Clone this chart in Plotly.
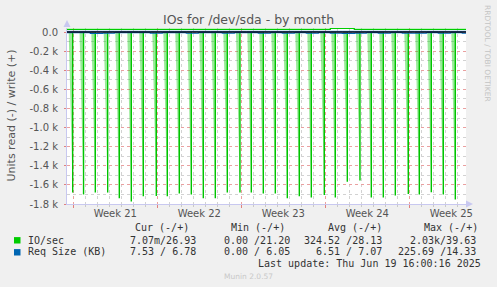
import plotly.graph_objects as go
import pandas as pd

# ---------------- data ----------------
title = "IOs for /dev/sda - by month"
y_title = "Units read (-) / write (+)"

# daily read-IO spikes (time, peak IO/sec shown negative)
spike_times = [
    "2025-05-17 22:45", "2025-05-18 20:30", "2025-05-19 20:00", "2025-05-20 20:45",
    "2025-05-21 20:00", "2025-05-22 20:00", "2025-05-23 20:00", "2025-05-24 22:00",
    "2025-05-25 20:00", "2025-05-26 20:00", "2025-05-27 20:00", "2025-05-28 20:00",
    "2025-05-29 20:00", "2025-05-30 20:00", "2025-05-31 21:20", "2025-06-01 20:00",
    "2025-06-02 20:00", "2025-06-03 20:00", "2025-06-04 20:00", "2025-06-05 20:00",
    "2025-06-06 20:00", "2025-06-07 22:00", "2025-06-08 20:00", "2025-06-09 20:00",
    "2025-06-10 21:20", "2025-06-11 20:00", "2025-06-12 20:00", "2025-06-13 20:00",
    "2025-06-14 22:00", "2025-06-15 20:00", "2025-06-16 20:00", "2025-06-17 20:00",
    "2025-06-18 20:00",
]
spike_peaks = [
    1680, 1700, 1680, 1680, 1740, 1775, 1720, 1715, 1720, 1690, 1700, 1740,
    1740, 1680, 1680, 1680, 1690, 1690, 1740, 1720, 1733, 1705, 1733, 1566,
    1555, 1733, 1733, 1712, 1695, 1700, 1677, 1700, 1754,
]

# write IO/sec, one sample per day (10:00)
write_vals = [
    27, 27, 28, 27, 27, 28, 27, 27, 28, 27, 27, 28, 27, 27, 28, 27, 27,
    28, 27, 27, 28, 27, 39, 38, 28, 27, 27, 28, 27, 27, 28, 27, 27, 28, 28,
]
# request size (KB), one sample per day
req_read = [
    7, 7, 14, 12, 7, 7, 7, 12, 7, 7, 13, 7, 7, 12, 7, 7, 12,
    7, 12, 7, 12, 7, 12, 15, 12, 7, 12, 7, 12, 12, 7, 12, 7, 12, 7,
]
req_write = [
    7, 7, 7, 7, 7, 7, 7, 7, 7, 7, 7, 7, 7, 7, 7, 7, 7,
    7, 7, 7, 7, 7, 7, 7, 7, 7, 7, 7, 7, 7, 7, 7, 7, 7, 7,
]

y_tickvals = [0, -200, -400, -600, -800, -1000, -1200, -1400, -1600, -1800]
y_ticktext = ["0.0", "-0.2 k", "-0.4 k", "-0.6 k", "-0.8 k", "-1.0 k",
              "-1.2 k", "-1.4 k", "-1.6 k", "-1.8 k"]
week_mid = ["2025-05-21 12:00", "2025-05-28 12:00", "2025-06-04 12:00",
            "2025-06-11 12:00", "2025-06-18 12:00"]
week_text = ["Week 21", "Week 22", "Week 23", "Week 24", "Week 25"]

legend_headers = ["Cur (-/+)", "Min (-/+)", "Avg (-/+)", "Max (-/+)"]
legend_names = ["IO/sec", "Req Size (KB)"]
legend_colors = ["#00cc00", "#0066b3"]
legend_values = [
    ["7.07m/26.93", "0.00 /21.20", "324.52 /28.13", "2.03k/39.63"],
    ["7.53 / 6.78", "0.00 / 6.05", "6.51 / 7.07", "225.69 /14.33"],
]
last_update = "Last update: Thu Jun 19 16:00:16 2025"
munin_ver = "Munin 2.0.57"
watermark = "RRDTOOL / TOBI OETIKER"

# ---------------- layout geometry ----------------
W, H = 497, 287
L, R, T, B = 67, 31, 28, 83
PW, PH = W - L - R, H - T - B
def xp(px): return (px - L) / PW
def yp(py): return (T + PH - py) / PH

x0 = pd.Timestamp("2025-05-17 11:24")
x1 = pd.Timestamp("2025-06-19 17:24")
samples = list(pd.date_range("2025-05-17 10:00", periods=len(write_vals), freq="D"))

st = pd.to_datetime(spike_times)
wedge = pd.Timedelta(hours=8)
wx, wy, lx, ly = [], [], [], []
for t, p in zip(st, spike_peaks):
    wx += [t - wedge, t, t, None]
    wy += [0, -p, 0, None]
    lx += [t, t, None]
    ly += [0, -p, None]

fig = go.Figure()
fig.add_trace(go.Scatter(x=wx, y=wy, mode="lines", fill="toself",
                         fillcolor="rgba(0,204,0,0.4)", line=dict(width=0),
                         hoverinfo="skip", showlegend=False))
fig.add_trace(go.Scatter(x=lx, y=ly, mode="lines",
                         line=dict(color="#00c400", width=1.4),
                         showlegend=False))
fig.add_trace(go.Scatter(x=samples, y=write_vals, mode="lines",
                         line=dict(color="#00cc00", width=1.2, shape="hv"),
                         showlegend=False))
fig.add_trace(go.Scatter(x=samples, y=req_write, mode="lines",
                         line=dict(color="#0066b3", width=1, shape="hv"),
                         showlegend=False))
fig.add_trace(go.Scatter(x=samples, y=[-v for v in req_read], mode="lines",
                         line=dict(color="#0066b3", width=1.2, shape="hv"),
                         showlegend=False))
fig.add_trace(go.Scatter(x=[], y=[], xaxis="x2", showlegend=False))

axis_font = dict(family="DejaVu Sans", size=10, color="#555555")
fig.update_layout(
    width=W, height=H,
    margin=dict(l=L, r=R, t=T, b=B),
    paper_bgcolor="#f0f0f0", plot_bgcolor="#ffffff",
    showlegend=False,
    xaxis=dict(
        type="date", range=[x0, x1],
        tickmode="array", tickvals=week_mid, ticktext=week_text,
        ticks="", showgrid=False, zeroline=False,
        showline=True, linecolor="#c8c8f0", linewidth=1,
        tickfont=axis_font,
        minor=dict(tick0="2025-05-18", dtick=86400000, showgrid=True,
                   gridcolor="#d2d2d2", griddash="dot", gridwidth=1,
                   ticks="outside", ticklen=2, tickcolor="#c8c8c8"),
    ),
    xaxis2=dict(
        type="date", overlaying="x", matches="x", range=[x0, x1],
        tick0="2025-05-18", dtick=7 * 86400000, tickmode="linear",
        showticklabels=False, showgrid=True, gridcolor="#eaa0a0",
        griddash="dot", ticks="outside", ticklen=3, tickcolor="#e08080",
        zeroline=False, showline=False, side="bottom", anchor="y",
    ),
    yaxis=dict(
        range=[-1800, 42], tickmode="array", tickvals=y_tickvals,
        ticktext=y_ticktext, tickfont=axis_font,
        showgrid=True, gridcolor="#eaa0a0", griddash="dot", gridwidth=1,
        zeroline=False, showline=True, linecolor="#c8c8f0", linewidth=1,
        ticks="outside", ticklen=2, tickcolor="#e08080",
        ticklabelstandoff=4,
        minor=dict(dtick=100, showgrid=True, gridcolor="#d2d2d2",
                   griddash="dot", gridwidth=1),
    ),
)

shapes = [
    # zero rule
    dict(type="line", xref="paper", yref="y", x0=0, x1=1, y0=0, y1=0,
         line=dict(color="#101020", width=1.6), layer="above"),
    # axis arrows
    dict(type="path", xref="paper", yref="paper",
         path=f"M {xp(63.5)},{yp(27)} L {xp(70.5)},{yp(27)} L {xp(67)},{yp(20)} Z",
         fillcolor="#c8c8f0", line=dict(width=0)),
    dict(type="path", xref="paper", yref="paper",
         path=f"M {xp(466)},{yp(200.5)} L {xp(466)},{yp(207.5)} L {xp(473)},{yp(204)} Z",
         fillcolor="#c8c8f0", line=dict(width=0)),
]
for i, c in enumerate(legend_colors):
    yc = 240.3 + i * 12
    shapes.append(dict(type="rect", xref="paper", yref="paper",
                       x0=xp(14), x1=xp(20.5), y0=yp(yc - 3.2), y1=yp(yc + 3.2),
                       fillcolor=c, line=dict(width=0)))
fig.update_layout(shapes=shapes)

mono = dict(family="DejaVu Sans Mono", size=10, color="#333333")
ann = [
    dict(text=title, x=xp(248), y=yp(19), font=dict(family="DejaVu Sans", size=12.5, color="#555555")),
    dict(text=y_title, x=xp(10.5), y=yp(116), textangle=-90,
         font=dict(family="DejaVu Sans", size=11, color="#555555")),
    dict(text=watermark, x=xp(488), y=yp(53), textangle=90,
         font=dict(family="DejaVu Sans", size=7.5, color="#c4c4c4")),
    dict(text=munin_ver, x=xp(248), y=yp(276),
         font=dict(family="DejaVu Sans", size=7.5, color="#c8c8c8")),
    dict(text=last_update, x=xp(483.5), y=yp(263.3), xanchor="right", font=mono),
]
header_left = [134.3, 230, 326.7, 422.7]
value_right = [197.5, 291.5, 384, 477.5]
for h, xl in zip(legend_headers, header_left):
    ann.append(dict(text=h, x=xp(xl - 1), y=yp(227.7), xanchor="left", font=mono))
for i, (name, vals) in enumerate(zip(legend_names, legend_values)):
    yc = 240 + i * 11.7
    ann.append(dict(text=name, x=xp(25.7), y=yp(yc), xanchor="left", font=mono))
    for v, xr in zip(vals, value_right):
        ann.append(dict(text=v, x=xp(xr), y=yp(yc), xanchor="right", font=mono))
for a in ann:
    a.update(xref="paper", yref="paper", showarrow=False)
    a.setdefault("xanchor", "center")
    a.setdefault("yanchor", "middle")
fig.update_layout(annotations=ann)

fig.write_html("out.html")
